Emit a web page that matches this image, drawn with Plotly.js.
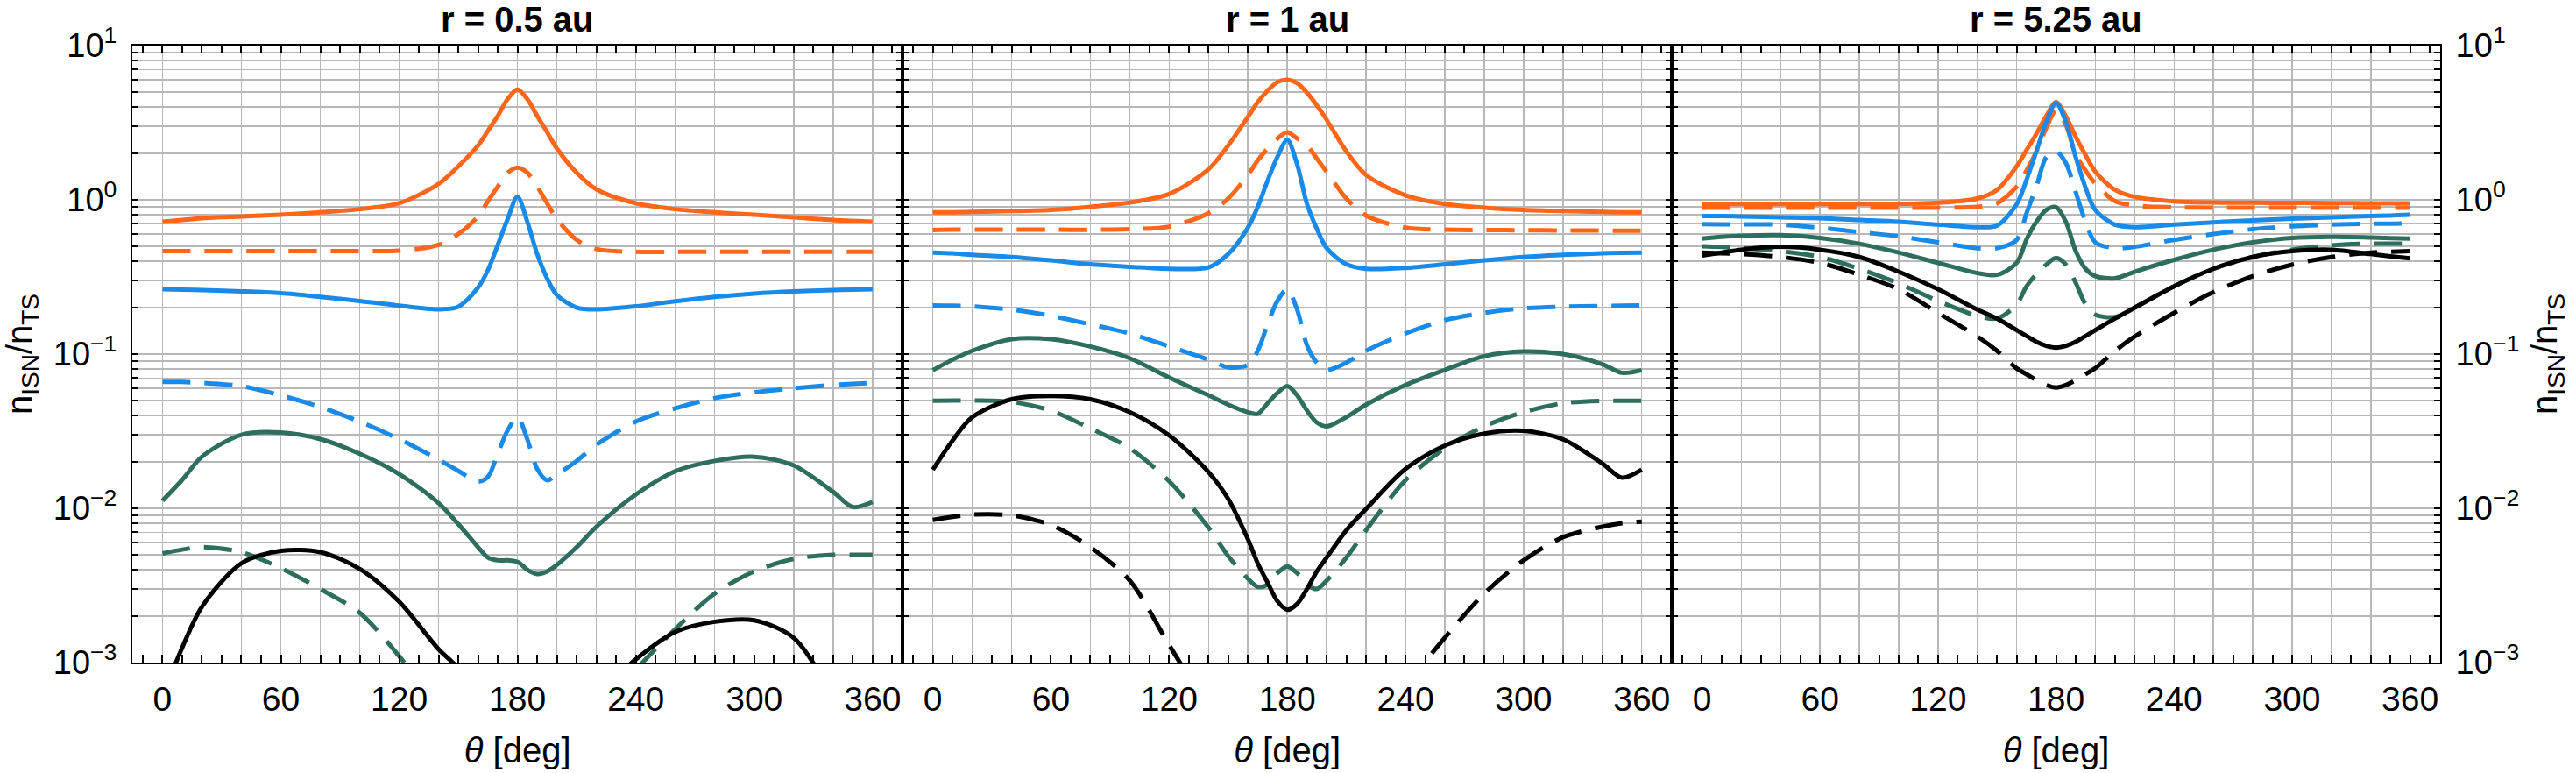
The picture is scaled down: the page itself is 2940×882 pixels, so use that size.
<!DOCTYPE html>
<html>
<head>
<meta charset="utf-8">
<script src="https://cdn.plot.ly/plotly-3.0.1.min.js"></script>
<style>
  html, body { margin: 0; padding: 0; background: #fff; }
  #chart { width: 2940px; height: 882px; }
</style>
</head>
<body>
<div id="chart"></div>
<script>
// Angular grid (deg) shared by every curve
const THETA = [0, 10, 20, 40, 60, 80, 100, 120, 140, 150, 160, 165, 170, 175, 180,
               185, 190, 195, 200, 210, 220, 240, 260, 280, 300, 320, 340, 350, 360];

const PANEL_TITLES = ['r = 0.5 au', 'r = 1 au', 'r = 5.25 au'];
const X_TICKS = [0, 20, 40, 60, 80, 100, 120, 140, 160, 180, 200, 220, 240, 260, 280, 300, 320, 340, 360];
const X_LABELS = ['0', '', '', '60', '', '', '120', '', '', '180', '', '', '240', '', '', '300', '', '', '360'];
const Y_DECADES = [-3, -2, -1, 0, 1];

// ---- r = 0.5 au ----
const r05_orange_solid = [0.72, 0.74, 0.76, 0.78, 0.80, 0.83, 0.87, 0.95, 1.27, 1.65, 2.25, 2.8, 3.5, 4.5, 5.2,
                          4.5, 3.5, 2.75, 2.15, 1.5, 1.17, 0.95, 0.87, 0.83, 0.80, 0.77, 0.74, 0.73, 0.72];
const r05_orange_dash  = [0.465, 0.465, 0.465, 0.465, 0.465, 0.465, 0.465, 0.468, 0.51, 0.60, 0.78, 0.98, 1.22, 1.5, 1.62,
                          1.5, 1.22, 0.95, 0.75, 0.55, 0.48, 0.46, 0.46, 0.46, 0.46, 0.46, 0.46, 0.46, 0.46];
const r05_blue_solid   = [0.263, 0.262, 0.26, 0.255, 0.248, 0.235, 0.221, 0.206, 0.195, 0.203, 0.27, 0.35, 0.51, 0.75, 1.05,
                          0.72, 0.445, 0.31, 0.241, 0.2, 0.195, 0.204, 0.22, 0.235, 0.247, 0.255, 0.26, 0.262, 0.263];
const r05_blue_dash    = [0.066, 0.066, 0.065, 0.062, 0.054, 0.0454, 0.0365, 0.0281, 0.0207, 0.0175, 0.0149, 0.016, 0.0226, 0.032, 0.039,
                          0.028, 0.018, 0.0152, 0.0166, 0.0203, 0.0258, 0.0365, 0.0445, 0.0518, 0.0565, 0.060, 0.063, 0.064, 0.065];
const r05_green_solid  = [0.0112, 0.0153, 0.0216, 0.030, 0.031, 0.0281, 0.0226, 0.0167, 0.0108, 0.0079, 0.0056, 0.0048, 0.0046, 0.0046, 0.0045,
                          0.0040, 0.00375, 0.0039, 0.0043, 0.0056, 0.0076, 0.0123, 0.0174, 0.0203, 0.0216, 0.019, 0.0128, 0.0102, 0.0110];
const r05_green_dash   = [0.0051, 0.0054, 0.0056, 0.0052, 0.0041, 0.0030, 0.0021, 0.0011, 0.0005, null, null, null, null, null, null,
                          null, null, null, null, null, null, 0.0009, 0.00165, 0.0028, 0.0039, 0.0047, 0.0050, 0.0050, 0.0050];
const r05_black_solid  = [0.0006, 0.00125, 0.0023, 0.0044, 0.0053, 0.0052, 0.00405, 0.00248, 0.00122, 0.00092, 0.0006, null, null, null, null,
                          null, null, null, null, null, 0.0006, 0.00105, 0.00158, 0.00184, 0.00188, 0.00145, 0.0006, null, null];

// ---- r = 1 au ----
const r1_orange_solid = [0.83, 0.83, 0.835, 0.845, 0.86, 0.90, 0.96, 1.09, 1.58, 2.25, 3.45, 4.3, 5.1, 5.8, 6.0,
                         5.7, 4.95, 4.1, 3.3, 2.06, 1.45, 1.07, 0.94, 0.89, 0.86, 0.845, 0.835, 0.83, 0.83];
const r1_orange_dash  = [0.637, 0.64, 0.64, 0.64, 0.64, 0.64, 0.645, 0.67, 0.82, 1.02, 1.45, 1.8, 2.15, 2.5, 2.74,
                         2.5, 2.25, 1.85, 1.52, 1.02, 0.79, 0.66, 0.64, 0.637, 0.635, 0.633, 0.632, 0.63, 0.63];
const r1_blue_solid   = [0.455, 0.45, 0.44, 0.426, 0.405, 0.382, 0.368, 0.357, 0.365, 0.445, 0.66, 0.9, 1.33, 1.9, 2.45,
                         1.7, 0.94, 0.65, 0.486, 0.382, 0.357, 0.362, 0.382, 0.405, 0.426, 0.44, 0.45, 0.453, 0.455];
const r1_blue_dash    = [0.207, 0.206, 0.204, 0.194, 0.177, 0.156, 0.136, 0.112, 0.092, 0.082, 0.085, 0.105, 0.156, 0.221, 0.263,
                         0.194, 0.114, 0.088, 0.079, 0.088, 0.105, 0.136, 0.166, 0.185, 0.198, 0.203, 0.205, 0.206, 0.207];
const r1_green_solid  = [0.0786, 0.092, 0.105, 0.125, 0.125, 0.112, 0.094, 0.0705, 0.054, 0.047, 0.042, 0.041, 0.048, 0.056, 0.062,
                         0.054, 0.043, 0.036, 0.034, 0.039, 0.047, 0.063, 0.079, 0.097, 0.104, 0.100, 0.086, 0.0756, 0.0786];
const r1_green_dash   = [0.0498, 0.050, 0.050, 0.049, 0.043, 0.033, 0.0245, 0.015, 0.0075, 0.0049, 0.0035, 0.0031, 0.0032, 0.0038, 0.0042,
                         0.0038, 0.0032, 0.0030, 0.0034, 0.0048, 0.0072, 0.0152, 0.0245, 0.034, 0.042, 0.048, 0.0498, 0.0498, 0.0498];
const r1_black_solid  = [0.0178, 0.0275, 0.039, 0.051, 0.0536, 0.051, 0.042, 0.0297, 0.0172, 0.0115, 0.0063, 0.0044, 0.0033, 0.0025, 0.0022,
                         0.0024, 0.0030, 0.0039, 0.0048, 0.0072, 0.0099, 0.018, 0.0255, 0.0305, 0.0318, 0.028, 0.0195, 0.0158, 0.0178];
const r1_black_dash   = [0.0084, 0.0088, 0.0091, 0.009, 0.0078, 0.0056, 0.0034, 0.0013, 0.0005, null, null, null, null, null, null,
                         null, null, null, null, null, null, 0.0007, 0.00145, 0.0028, 0.0046, 0.0065, 0.0076, 0.0080, 0.0082];

// ---- r = 5.25 au ----
const r525_orange_solid = [0.94, 0.94, 0.94, 0.94, 0.94, 0.94, 0.94, 0.957, 1.02, 1.16, 1.65, 2.1, 2.68, 3.48, 4.3,
                           3.48, 2.56, 1.95, 1.52, 1.16, 1.045, 0.978, 0.96, 0.957, 0.955, 0.953, 0.95, 0.95, 0.95];
const r525_orange_dash  = [0.89, 0.89, 0.89, 0.89, 0.89, 0.89, 0.89, 0.89, 0.90, 0.95, 1.22, 1.55, 2.06, 2.92, 3.8,
                           3.05, 1.97, 1.55, 1.27, 0.98, 0.916, 0.895, 0.89, 0.89, 0.89, 0.89, 0.89, 0.89, 0.89];
const r525_blue_solid   = [0.786, 0.785, 0.78, 0.77, 0.76, 0.74, 0.72, 0.69, 0.665, 0.68, 0.937, 1.35, 2.06, 3.19, 4.24,
                           3.19, 1.89, 1.2, 0.858, 0.69, 0.665, 0.69, 0.715, 0.736, 0.755, 0.77, 0.785, 0.79, 0.80];
const r525_blue_dash    = [0.695, 0.694, 0.693, 0.69, 0.66, 0.618, 0.58, 0.53, 0.486, 0.486, 0.55, 0.82, 1.22, 1.89, 2.06,
                           1.73, 1.12, 0.72, 0.53, 0.486, 0.496, 0.55, 0.60, 0.645, 0.674, 0.69, 0.70, 0.70, 0.705];
const r525_green_solid  = [0.56, 0.575, 0.585, 0.59, 0.566, 0.519, 0.455, 0.39, 0.335, 0.326, 0.39, 0.554, 0.72, 0.858, 0.896,
                           0.72, 0.465, 0.357, 0.32, 0.31, 0.342, 0.408, 0.475, 0.53, 0.566, 0.575, 0.57, 0.565, 0.56];
const r525_green_dash   = [0.50, 0.495, 0.486, 0.465, 0.426, 0.357, 0.287, 0.221, 0.177, 0.17, 0.21, 0.275, 0.33, 0.38, 0.42,
                           0.38, 0.29, 0.21, 0.18, 0.174, 0.20, 0.275, 0.357, 0.426, 0.475, 0.507, 0.52, 0.52, 0.52];
const r525_black_solid  = [0.435, 0.455, 0.475, 0.496, 0.475, 0.426, 0.342, 0.263, 0.194, 0.17, 0.143, 0.131, 0.12, 0.113, 0.11,
                           0.113, 0.12, 0.131, 0.143, 0.17, 0.20, 0.275, 0.357, 0.426, 0.465, 0.475, 0.445, 0.43, 0.417];
const r525_black_dash   = [0.455, 0.45, 0.445, 0.426, 0.39, 0.327, 0.263, 0.185, 0.13, 0.105, 0.0807, 0.074, 0.0677, 0.063, 0.0607,
                           0.063, 0.0677, 0.074, 0.081, 0.105, 0.13, 0.185, 0.252, 0.32, 0.38, 0.426, 0.455, 0.46, 0.465];

const ORANGE = '#ff661a';
const BLUE = '#1a8ae8';
const GREEN = '#2e6e5e';
const BLACK = '#000000';
const DASH = '32px,16px';

const PANELS = [
  [[r05_orange_solid, ORANGE, 'solid'], [r05_orange_dash, ORANGE, DASH],
   [r05_blue_solid, BLUE, 'solid'], [r05_blue_dash, BLUE, DASH],
   [r05_green_solid, GREEN, 'solid'], [r05_green_dash, GREEN, DASH],
   [r05_black_solid, BLACK, 'solid']],
  [[r1_orange_solid, ORANGE, 'solid'], [r1_orange_dash, ORANGE, DASH],
   [r1_blue_solid, BLUE, 'solid'], [r1_blue_dash, BLUE, DASH],
   [r1_green_solid, GREEN, 'solid'], [r1_green_dash, GREEN, DASH],
   [r1_black_solid, BLACK, 'solid'], [r1_black_dash, BLACK, DASH]],
  [[r525_orange_solid, ORANGE, 'solid'], [r525_orange_dash, ORANGE, DASH],
   [r525_blue_solid, BLUE, 'solid'], [r525_blue_dash, BLUE, DASH],
   [r525_green_solid, GREEN, 'solid'], [r525_green_dash, GREEN, DASH],
   [r525_black_solid, BLACK, 'solid'], [r525_black_dash, BLACK, DASH]]
];

const traces = [];
PANELS.forEach((series, p) => {
  const sfx = p === 0 ? '' : String(p + 1);
  series.forEach(([vals, color, dash]) => {
    traces.push({
      type: 'scatter', mode: 'lines',
      x: THETA, y: vals,
      xaxis: 'x' + sfx, yaxis: 'y' + sfx,
      line: { color: color, width: 5, dash: dash, shape: 'spline', smoothing: 0.85 },
      connectgaps: false, showlegend: false, hoverinfo: 'skip'
    });
  });
});

// log-axis ticks: every 1..9 x 10^n, labelled only on decades
const yTickVals = [], yTickText = [];
Y_DECADES.forEach(d => {
  const lim = d === 1 ? 1 : 9;
  for (let m = 1; m <= lim; m++) {
    yTickVals.push(m * Math.pow(10, d));
    yTickText.push(m === 1 ? '10<sup>' + String(d).replace('-', '\u2212') + '</sup>' : '');
  }
});

const FONT = 'Liberation Sans, Arial, Helvetica, sans-serif';
const BORDERS = [0, 0.3338, 0.6671, 1];

function xAxis(p) {
  return {
    domain: [BORDERS[p], BORDERS[p + 1]],
    anchor: p === 0 ? 'y' : 'y' + (p + 1),
    range: [-15.3, 375.3],
    tickmode: 'array', tickvals: X_TICKS, ticktext: X_LABELS,
    ticks: 'inside', ticklen: 9, tickwidth: 2, tickcolor: '#000',
    minor: { tick0: 0, dtick: 10, ticks: 'inside', ticklen: 9, tickwidth: 2, tickcolor: '#000', showgrid: false },
    showline: true, linecolor: '#000', linewidth: 2, mirror: 'allticks',
    showgrid: true, gridcolor: '#b8b8b8', gridwidth: 1.5, zeroline: false,
    tickfont: { family: FONT, size: 39, color: '#000' },
    ticklabelstandoff: 6,
    title: { text: '<i>\u03b8</i> [deg]', font: { family: FONT, size: 40, color: '#000' }, standoff: 24 }
  };
}

function yAxis(p) {
  const ax = {
    type: 'log', range: [-3, 1],
    anchor: p === 0 ? 'x' : 'x' + (p + 1),
    tickmode: 'array', tickvals: yTickVals, ticktext: yTickText,
    ticks: 'inside', ticklen: 7, tickwidth: 2, tickcolor: '#000',
    showline: true, linecolor: '#000', linewidth: 2, mirror: 'allticks',
    showgrid: true, gridcolor: '#b8b8b8', gridwidth: 1.5, zeroline: false,
    tickfont: { family: FONT, size: 38, color: '#000' },
    ticklabelstandoff: 8,
    showticklabels: p !== 1
  };
  if (p === 2) ax.side = 'right';
  if (p !== 1) {
    ax.title = { text: 'n<sub>ISN</sub>/n<sub>TS</sub>', font: { family: FONT, size: 40, color: '#000' }, standoff: 16 };
  }
  return ax;
}

const layout = {
  width: 2940, height: 882,
  margin: { l: 151, r: 155, t: 52, b: 126 },
  paper_bgcolor: '#fff', plot_bgcolor: '#fff',
  showlegend: false,
  xaxis: xAxis(0), xaxis2: xAxis(1), xaxis3: xAxis(2),
  yaxis: yAxis(0), yaxis2: yAxis(1), yaxis3: yAxis(2),
  annotations: PANEL_TITLES.map((t, p) => ({
    text: '<b>' + t + '</b>',
    xref: (p === 0 ? 'x' : 'x' + (p + 1)) + ' domain', x: 0.5,
    yref: 'paper', y: 1, yanchor: 'middle', yshift: 30,
    showarrow: false,
    font: { family: FONT, size: 40, color: '#000' }
  }))
};

Plotly.newPlot('chart', traces, layout, { staticPlot: true });
</script>
</body>
</html>
